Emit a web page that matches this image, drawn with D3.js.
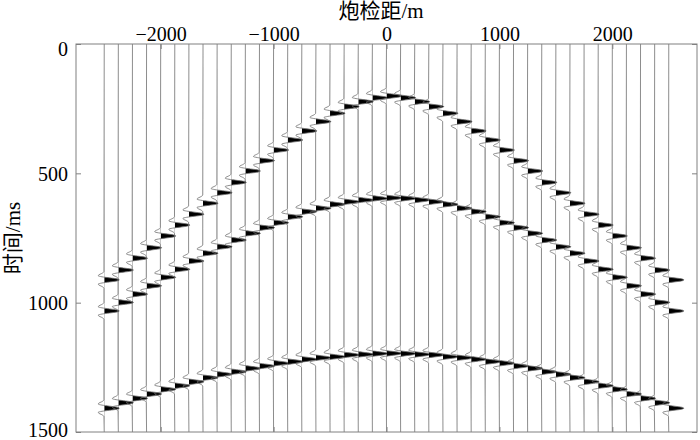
<!DOCTYPE html>
<html>
<head>
<meta charset="utf-8">
<script src="https://cdn.jsdelivr.net/npm/d3@7"></script>
<style>
  body { margin: 0; background: #ffffff; }
  svg { display: block; }
  text { font-family: "Liberation Serif", "Times New Roman", "DejaVu Serif", "Noto Sans CJK SC", serif; fill: #000; }
</style>
</head>
<body>
<svg id="seis" width="700" height="440"></svg>
<script>
// Shot gather: three reflection events, one wiggle trace every 125 m


// Trace offsets (m)
const offsets = [
  -2500, -2375, -2250, -2125, -2000, -1875, -1750, -1625, -1500, -1375, -1250,
  -1125, -1000, -875, -750, -625, -500, -375, -250, -125, 0,
  125, 250, 375, 500, 625, 750, 875, 1000, 1125, 1250,
  1375, 1500, 1625, 1750, 1875, 2000, 2125, 2250, 2375, 2500
];

// Event arrival times per trace (ms)
const event1 = [
  912, 874, 828, 788, 742, 700, 658, 616, 575, 535, 491,
  451, 410, 371, 336, 300, 268, 242, 223, 208, 201,
  208, 223, 242, 268, 300, 336, 371, 410, 451, 491,
  535, 575, 616, 658, 700, 742, 788, 828, 874, 912
];
const event2 = [
  1032, 999, 967, 935, 902, 871, 839, 809, 784, 758, 732,
  710, 691, 668, 648, 635, 620, 610, 603, 597, 595,
  597, 603, 610, 620, 635, 648, 668, 691, 710, 732,
  758, 784, 809, 839, 871, 902, 935, 967, 999, 1032
];
const event3 = [
  1408, 1387, 1370, 1353, 1335, 1321, 1306, 1290, 1277, 1267, 1254,
  1245, 1234, 1228, 1219, 1213, 1209, 1202, 1200, 1197, 1196,
  1197, 1200, 1202, 1209, 1213, 1219, 1228, 1234, 1245, 1254,
  1267, 1277, 1290, 1306, 1321, 1335, 1353, 1370, 1387, 1408
];

// Wavelet amplitudes, one sample every 4 ms, centred on the arrival
const waveletStep = 4;
const wavelet = [
  -0.02, -0.08, -0.2, -0.35, -0.4, -0.15, 0.35, 0.85, 1.0,
  0.85, 0.35, -0.15, -0.4, -0.35, -0.2, -0.08, -0.02
];

// Axis ticks
const xTicks = [-2000, -1000, 0, 1000, 2000];
const yTicks = [0, 500, 1000, 1500];


// -- Layout -- //

const margin = {top: 44, right: 3, bottom: 8, left: 76};
const width = 700, height = 440;
const axisColour = "#808080";
const serif = "'Liberation Serif', 'Times New Roman', 'DejaVu Serif', serif";

const svg = d3.select("#seis");

const x = d3.scaleLinear()
  .domain([-2750, 2750])
  .range([margin.left, width - margin.right]);
const y = d3.scaleLinear()
  .domain([0, 1500])
  .range([margin.top, height - margin.bottom]);
// wiggle deflection in pixels for a wavelet amplitude
const amp = d3.scaleLinear().domain([0, 1]).range([0, 15]);

// Build the sample list for one trace
function traceSamples(i) {
  let pts = [{t: 0, a: 0}];
  let half = (wavelet.length - 1) / 2;
  [event1[i], event2[i], event3[i]].forEach(t0 => {
    wavelet.forEach((w, k) => pts.push({t: t0 + (k - half) * waveletStep, a: w}));
  });
  pts.push({t: 1500, a: 0});
  return pts.sort((p, q) => p.t - q.t);
}

const defs = svg.append("defs");
const traces = svg.append("g");

offsets.forEach((off, i) => {
  let base = x(off);
  let pts = traceSamples(i);
  // clip keeps only the right-hand (positive) lobes for the black fill
  defs.append("clipPath")
      .attr("id", "pos" + i)
    .append("rect")
      .attr("x", base)
      .attr("y", margin.top)
      .attr("width", 30)
      .attr("height", y.range()[1] - margin.top);
  let area = d3.area()
    .y(d => y(d.t))
    .x0(base)
    .x1(d => base + amp(d.a))
    .curve(d3.curveMonotoneY);
  let line = d3.line()
    .y(d => y(d.t))
    .x(d => base + amp(d.a))
    .curve(d3.curveMonotoneY);
  traces.append("path")
      .attr("d", area(pts))
      .attr("fill", "#000")
      .attr("clip-path", "url(#pos" + i + ")");
  traces.append("path")
      .attr("d", line(pts))
      .attr("fill", "none")
      .attr("stroke", "#707070")
      .attr("stroke-width", 0.8);
});

// Frame
svg.append("rect")
    .attr("x", margin.left)
    .attr("y", margin.top)
    .attr("width", width - margin.right - margin.left)
    .attr("height", height - margin.bottom - margin.top)
    .attr("fill", "none")
    .attr("stroke", axisColour)
    .attr("stroke-width", 1);

// Axes, ticks pointing inward on all four sides
function styleAxis(g) {
  g.attr("font-family", serif);
  g.select(".domain").remove();
  g.selectAll(".tick line").attr("stroke", axisColour);
  g.selectAll(".tick text").attr("font-size", 20).attr("fill", "#000");
}

svg.append("g")
    .attr("transform", `translate(0,${margin.top})`)
    .call(d3.axisTop(x).tickValues(xTicks).tickSizeInner(-5).tickSizeOuter(0)
      .tickPadding(3).tickFormat(d => d < 0 ? "\u2212" + Math.abs(d) : d))
    .call(styleAxis);
svg.append("g")
    .attr("transform", `translate(0,${height - margin.bottom})`)
    .call(d3.axisBottom(x).tickValues(xTicks).tickSizeInner(-5).tickSizeOuter(0)
      .tickFormat(""))
    .call(styleAxis);
svg.append("g")
    .attr("transform", `translate(${margin.left},0)`)
    .call(d3.axisLeft(y).tickValues(yTicks).tickSizeInner(-5).tickSizeOuter(0)
      .tickPadding(8).tickFormat(d3.format("d")))
    .call(styleAxis)
    .selectAll(".tick text")
      .attr("dy", d => d === 0 ? "0.55em" : d === 1500 ? "0.2em" : "0.35em");
svg.append("g")
    .attr("transform", `translate(${width - margin.right},0)`)
    .call(d3.axisRight(y).tickValues(yTicks).tickSizeInner(-5).tickSizeOuter(0)
      .tickFormat(""))
    .call(styleAxis);

// Axis titles
svg.append("text")
    .attr("x", 381)
    .attr("y", 18)
    .attr("text-anchor", "middle")
    .attr("font-size", 21)
    .text("炮检距/m");
svg.append("text")
    .attr("transform", `translate(20,${(margin.top + height - margin.bottom) / 2}) rotate(-90)`)
    .attr("text-anchor", "middle")
    .attr("font-size", 21)
    .text("时间/ms");
</script>
</body>
</html>
